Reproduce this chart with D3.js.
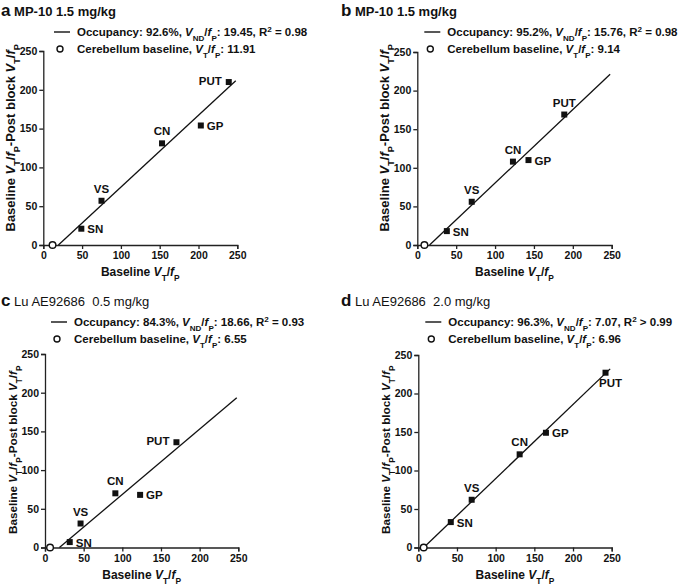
<!DOCTYPE html>
<html>
<head>
<meta charset="utf-8">
<script src="https://cdn.jsdelivr.net/npm/d3@7/dist/d3.min.js"></script>
<style>
  html, body { margin: 0; padding: 0; background: #fff; }
  svg { display: block; font-family: "Liberation Sans", Arial, sans-serif; }
  text { white-space: pre; fill: #111; }
</style>
</head>
<body>
<svg id="chart" width="685" height="584"></svg>
<script>
// regions, same order in every panel
const REGIONS = ["SN", "VS", "CN", "GP", "PUT"];

// baseline VT/fP (x) and baseline - post block VT/fP (y)
const BASELINE_A = [49, 75, 153, 203, 239];
const DELTA_A    = [21, 57, 131, 154, 210];
const BASELINE_B = [38, 70, 123, 143, 189];
const DELTA_B    = [18, 56, 108, 110, 169];
const BASELINE_C = [32, 46, 91, 123, 170];
const DELTA_C    = [7, 31, 70, 68, 136];
const BASELINE_D = [42, 69, 131, 165, 242];
const DELTA_D    = [33, 62, 121, 149, 227];

// fit results per panel
const PANEL_LETTERS = ["a", "b", "c", "d"];
const PANEL_TITLES = ["MP-10 1.5 mg/kg", "MP-10 1.5 mg/kg", "Lu AE92686  0.5 mg/kg", "Lu AE92686  2.0 mg/kg"];
const OCCUPANCY = [92.6, 95.2, 84.3, 96.3];
const VND_FP = [19.45, 15.76, 18.66, 7.07];
const R2_TEXT = ["= 0.98", "= 0.98", "= 0.93", "> 0.99"];
const CEREBELLUM = [11.91, 9.14, 6.55, 6.96];
const LINE_END = [248, 248, 248, 248];

const AXIS_TICKS = [0, 50, 100, 150, 200, 250];

const series = [
    [BASELINE_A, DELTA_A],
    [BASELINE_B, DELTA_B],
    [BASELINE_C, DELTA_C],
    [BASELINE_D, DELTA_D]
];

// where each region label sits relative to its square
const LABEL_SIDES = [
    ["right", "above", "above", "right", "left"],
    ["right", "above", "above", "right", "above"],
    ["right", "above", "above", "right", "left"],
    ["right", "above", "above", "right", "below"]
];

// plot boxes in page pixels
const layout = [
    {left: 0, x0: 43.3, x1: 237.3, y0: 245, y1: 51, top: 0, titleBold: true, yLabelSize: 13, legendX: 77},
    {left: 340, x0: 417.3, x1: 611.7, y0: 245, y1: 52, top: 0, titleBold: true, yLabelSize: 13, legendX: 447.3},
    {left: 0, x0: 45, x1: 238.3, y0: 547.5, y1: 354, top: 290, titleBold: false, yLabelSize: 11.7, legendX: 74},
    {left: 340, x0: 418.3, x1: 611.7, y0: 547.5, y1: 355, top: 290, titleBold: false, yLabelSize: 11.7, legendX: 448.3}
];

const svg = d3.select("#chart");

// append rich text: parts like {t, i (italic), sub, sup}
function richText(sel, parts) {
    parts.forEach(function(p) {
        let ts = sel.append("tspan").text(p.t);
        if (p.i) ts.attr("font-style", "italic");
        if (p.sub) ts.attr("baseline-shift", "sub").attr("font-size", "70%");
        if (p.sup) ts.attr("baseline-shift", "super").attr("font-size", "70%");
    });
    return sel;
}

const vtfp = [{t: "V", i: true}, {t: "T", sub: true}, {t: "/"}, {t: "f", i: true}, {t: "P", sub: true}];

function drawPanel(k) {
    let L = layout[k];
    let xs = series[k][0], ys = series[k][1];
    let g = svg.append("g");

    let xScale = d3.scaleLinear().domain([0, 250]).range([L.x0, L.x1]);
    let yScale = d3.scaleLinear().domain([0, 250]).range([L.y0, L.y1]);

    // title
    let title = g.append("text")
        .attr("x", L.left + 1)
        .attr("y", L.top + 15.5);
    title.append("tspan").attr("font-size", 17).attr("font-weight", "bold").text(PANEL_LETTERS[k]);
    title.append("tspan").attr("font-size", 13)
        .attr("font-weight", L.titleBold ? "bold" : "normal")
        .text(" " + PANEL_TITLES[k]);

    // axes
    let xAxis = g.append("g")
        .attr("class", "axis axis--x")
        .attr("transform", "translate(0," + L.y0 + ")")
        .call(d3.axisBottom(xScale).tickValues(AXIS_TICKS).tickSizeOuter(0).tickSize(4).tickPadding(3));
    let yAxis = g.append("g")
        .attr("class", "axis axis--y")
        .attr("transform", "translate(" + L.x0 + ",0)")
        .call(d3.axisLeft(yScale).tickValues(AXIS_TICKS).tickSizeOuter(0).tickSize(4).tickPadding(2));
    [xAxis, yAxis].forEach(function(a) {
        a.selectAll("path, line").attr("stroke", "#222").attr("stroke-width", 1.3);
        a.selectAll("text")
            .attr("fill", "#111")
            .attr("font-size", 10.5)
            .attr("font-weight", "bold")
            .attr("font-family", "Liberation Sans, Arial, sans-serif");
    });

    // axis labels
    let xl = g.append("text")
        .attr("x", (L.x0 + L.x1) / 2)
        .attr("y", L.y0 + 31)
        .attr("text-anchor", "middle")
        .attr("font-size", 12)
        .attr("font-weight", "bold");
    richText(xl, [{t: "Baseline "}].concat(vtfp));

    let yl = g.append("text")
        .attr("transform", "translate(" + (L.x0 - 28) + "," + (L.y0 - 13.5) + ") rotate(-90)")
        .attr("text-anchor", "start")
        .attr("font-size", L.yLabelSize)
        .attr("font-weight", "bold");
    richText(yl, [{t: "Baseline "}].concat(vtfp, [{t: "-Post block "}], vtfp));

    // fitted line: baseline - post = occupancy * (baseline - VND)
    let occ = OCCUPANCY[k] / 100;
    let lineData = [VND_FP[k], LINE_END[k]].map(function(v) { return {x: v, y: occ * (v - VND_FP[k])}; });
    let line = d3.line()
        .x(function(d) { return xScale(d.x); })
        .y(function(d) { return yScale(d.y); });
    g.append("path")
        .datum(lineData)
        .attr("d", line)
        .attr("fill", "none")
        .attr("stroke", "#111")
        .attr("stroke-width", 1.3);

    // cerebellum open circle
    g.append("circle")
        .attr("cx", xScale(CEREBELLUM[k]))
        .attr("cy", yScale(0))
        .attr("r", 3.3)
        .attr("fill", "#fff")
        .attr("stroke", "#111")
        .attr("stroke-width", 1.4);

    // region squares
    let pts = REGIONS.map(function(r, i) { return {name: r, x: xs[i], y: ys[i], side: LABEL_SIDES[k][i]}; });
    g.selectAll("rect.pt")
        .data(pts)
        .enter().append("rect")
        .attr("class", "pt")
        .attr("x", function(d) { return xScale(d.x) - 3; })
        .attr("y", function(d) { return yScale(d.y) - 3; })
        .attr("width", 6)
        .attr("height", 6)
        .attr("fill", "#111");

    g.selectAll("text.lbl")
        .data(pts)
        .enter().append("text")
        .attr("class", "lbl")
        .attr("font-size", 11.5)
        .attr("font-weight", "bold")
        .attr("text-anchor", function(d) {
            return d.side == "right" ? "start" : d.side == "left" ? "end" : "middle";
        })
        .attr("x", function(d) {
            let px = xScale(d.x);
            if (d.side == "right") return px + 6;
            if (d.side == "left") return px - 7;
            if (d.side == "below") return px + 5;
            return px;
        })
        .attr("y", function(d) {
            let py = yScale(d.y);
            if (d.side == "above") return py - 8;
            if (d.side == "below") return py + 14;
            if (d.side == "left") return py + 3;
            return py + 4.5;
        })
        .text(function(d) { return d.name; });

    // legend
    let ly1 = L.top + 32, ly2 = L.top + 49;
    g.append("line")
        .attr("x1", L.legendX - 23).attr("x2", L.legendX - 7)
        .attr("y1", ly1).attr("y2", ly1)
        .attr("stroke", "#111").attr("stroke-width", 1.4);
    let t1 = g.append("text")
        .attr("x", L.legendX).attr("y", ly1 + 4.2)
        .attr("font-size", 11.5).attr("font-weight", "bold");
    richText(t1, [
        {t: "Occupancy: " + OCCUPANCY[k].toFixed(1) + "%, "},
        {t: "V", i: true}, {t: "ND", sub: true}, {t: "/"}, {t: "f", i: true}, {t: "P", sub: true},
        {t: ": " + VND_FP[k].toFixed(2) + ", R"}, {t: "2", sup: true}, {t: " " + R2_TEXT[k]}
    ]);

    g.append("circle")
        .attr("cx", L.legendX - 17).attr("cy", ly2)
        .attr("r", 3)
        .attr("fill", "#fff").attr("stroke", "#111").attr("stroke-width", 1.4);
    let t2 = g.append("text")
        .attr("x", L.legendX).attr("y", ly2 + 4.2)
        .attr("font-size", 11.5).attr("font-weight", "bold");
    richText(t2, [{t: "Cerebellum baseline, "}].concat(vtfp, [{t: ": " + CEREBELLUM[k].toFixed(2)}]));
}

for (let k = 0; k < 4; k++) drawPanel(k);
</script>
</body>
</html>
